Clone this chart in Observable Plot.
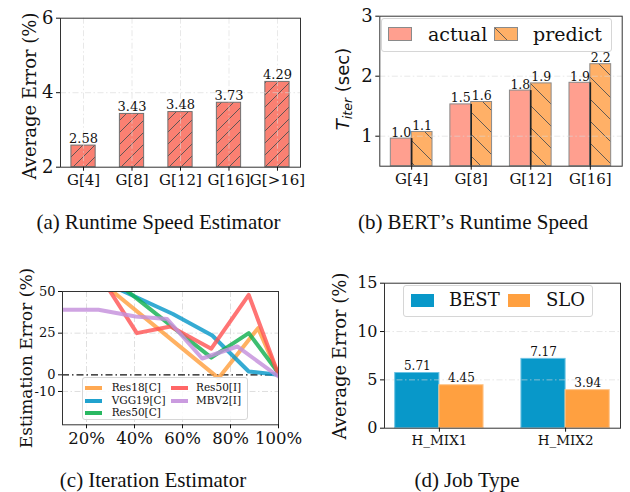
<!DOCTYPE html>
<html><head><meta charset="utf-8">
<script src="https://cdn.jsdelivr.net/npm/d3@7"></script>
<script src="https://cdn.jsdelivr.net/npm/@observablehq/plot@0.6"></script>
<style>
body{margin:0;background:#fff;}
#wrap{position:relative;width:630px;height:492px;overflow:hidden;font-family:"DejaVu Serif";color:#111;}
.panel{position:absolute;}
.panel svg{display:block;overflow:visible;}
.ytitle{position:absolute;white-space:nowrap;transform:translate(-50%,-50%) rotate(-90deg);line-height:1;}
.cap{position:absolute;white-space:nowrap;transform:translate(-50%,-50%);font-family:"Liberation Serif";font-size:21px;line-height:1;}
.cap b{font-weight:normal;margin-right:5px;}
.legend{position:absolute;box-sizing:border-box;border:1px solid #d6d6d6;border-radius:3px;background:rgba(255,255,255,0.85);}
.lt{position:absolute;white-space:nowrap;transform:translateY(-50%);line-height:1;}
.lt.small{line-height:0.88;}
.sw{position:absolute;box-sizing:border-box;}
</style></head><body><div id="wrap"></div>
<script>
// ---------- data ----------
const A_CATEGORIES = ["G[4]", "G[8]", "G[12]", "G[16]", "G[>16]"];
const A_VALUES = [2.58, 3.43, 3.48, 3.73, 4.29];
const A_YTICKS = [2, 4, 6];

const B_CATEGORIES = ["G[4]", "G[8]", "G[12]", "G[16]"];
const B_ACTUAL = [0.96, 1.53, 1.76, 1.89];
const B_PREDICT = [1.07, 1.57, 1.88, 2.2];
const B_YTICKS = [1, 2, 3];

const C_MODELS = ["Res18[C]", "VGG19[C]", "Res50[C]", "Res50[I]", "MBV2[I]"];
const C_RES18C_X = [25, 75, 91.5, 100];
const C_RES18C_Y = [57, -2, 28, 0];
const C_VGG19C_X = [25, 56, 72.4, 87.6, 100];
const C_VGG19C_Y = [57, 36.5, 23.6, 2, 0];
const C_RES50C_X = [25, 72, 87.6, 100];
const C_RES50C_Y = [64, 10.3, 25, 1];
const C_RES50I_X = [25, 41, 55, 72, 87.6, 100];
const C_RES50I_Y = [61, 25, 29, 15.7, 48, 0];
const C_MBV2I_X = [10, 25, 40.4, 53.6, 68.2, 82.8, 100];
const C_MBV2I_Y = [39, 39, 35, 33.5, 9.8, 17, -1];
const C_XTICKS = [20, 40, 60, 80, 100];
const C_YTICKS = [50, 25, 0, -10];

const D_CATEGORIES = ["H_MIX1", "H_MIX2"];
const D_BEST = [5.71, 7.17];
const D_SLO = [4.45, 3.94];
const D_YTICKS = [0, 5, 10, 15];

// ---------- styles ----------
const C_COLORS = ["#ffa040", "#0898c9", "#12b050", "#ff5555", "#c490dc"];
const GRID = {stroke: "#d9d9d9", strokeOpacity: 0.85, strokeDasharray: "6,2.5,1.5,2.5"};
const FRAME = {stroke: "#333", strokeWidth: 1};
const BASESTYLE = {fontFamily: "DejaVu Serif", background: "transparent", color: "#111", overflow: "visible"};
const wrap = document.getElementById("wrap");

function place(svg, left, top) {
  const d = document.createElement("div");
  d.className = "panel"; d.style.left = left + "px"; d.style.top = top + "px";
  d.appendChild(svg); wrap.appendChild(d);
  return svg;
}
function addEl(cls, html, css) {
  const d = document.createElement("div");
  d.className = cls; d.innerHTML = html; Object.assign(d.style, css);
  wrap.appendChild(d); return d;
}

// ---------- (a) ----------
const aData = A_CATEGORIES.map((c, i) => ({i, c, v: A_VALUES[i]}));
const svgA = Plot.plot({
  width: 315, height: 200,
  marginLeft: 60, marginRight: 15, marginTop: 17.7, marginBottom: 33.3,
  style: BASESTYLE,
  x: {type: "linear", domain: [-0.475, 4.475]},
  y: {domain: [2, 6]},
  marks: [
    Plot.rectY(aData, {x1: d => d.i - 0.25, x2: d => d.i + 0.25, y1: 2, y2: "v", fill: "url(#hatchA)", stroke: "#707070", strokeWidth: 1}),
    Plot.ruleX(aData, {x: "i", ...GRID, strokeOpacity: 0.6}),
    Plot.ruleY([4], {...GRID, strokeOpacity: 0.6}),
    Plot.text(aData, {x: "i", y: "v", text: d => d.v.toFixed(2), dy: -3, lineAnchor: "bottom", fontSize: 13}),
    Plot.frame(FRAME),
    Plot.axisY({ticks: A_YTICKS, tickSize: 4, tickPadding: 3, fontSize: 18, label: null, tickFormat: d => String(d)}),
    Plot.axisX({ticks: aData.map(d => d.i), tickSize: 4, tickPadding: 3, fontSize: 15, label: null, tickFormat: i => A_CATEGORIES[i]})
  ]
});
d3.select(svgA).insert("defs", ":first-child").html(
  '<pattern id="hatchA" patternUnits="userSpaceOnUse" width="12" height="12">' +
  '<rect width="12" height="12" fill="#fa8072"/>' +
  '<path d="M-1,1 l2,-2 M0,12 l12,-12 M11,13 l2,-2" stroke="#505050" stroke-width="0.9"/></pattern>');
place(svgA, 0, 0);

// ---------- (b) ----------
const bData = B_CATEGORIES.map((c, i) => ({i, c, a: B_ACTUAL[i], p: B_PREDICT[i]}));
const svgB = Plot.plot({
  width: 315, height: 200,
  marginLeft: 64.3, marginRight: 8.3, marginTop: 15.7, marginBottom: 34.3,
  style: BASESTYLE,
  x: {type: "linear", domain: [-0.535, 3.535]},
  y: {domain: [0.5, 3]},
  marks: [
    Plot.rectY(bData, {x1: d => d.i - 0.35, x2: d => d.i, y1: 0.5, y2: "a", fill: "#ff9f8f", stroke: "#8a8a8a", strokeWidth: 1}),
    Plot.rectY(bData, {x1: d => d.i, x2: d => d.i + 0.35, y1: 0.5, y2: "p", fill: "url(#hatchB)", stroke: "#8a8a8a", strokeWidth: 1}),
    Plot.ruleX(bData, {x: "i", y1: 0.5, y2: "a", stroke: "#222", strokeWidth: 1.6}),
    Plot.ruleY([1, 2], {...GRID, strokeOpacity: 0.6}),
    Plot.text(bData, {x: d => d.i - 0.175, y: "a", text: d => d.a.toFixed(1), dy: -2, lineAnchor: "bottom", fontSize: 12.5}),
    Plot.text(bData, {x: d => d.i + 0.175, y: "p", text: d => d.p.toFixed(1), dy: -2, lineAnchor: "bottom", fontSize: 12.5}),
    Plot.frame(FRAME),
    Plot.axisY({ticks: B_YTICKS, tickSize: 4, tickPadding: 3, fontSize: 18, label: null, tickFormat: d => String(d)}),
    Plot.axisX({ticks: bData.map(d => d.i), tickSize: 4, tickPadding: 3, fontSize: 15, label: null, tickFormat: i => B_CATEGORIES[i]})
  ]
});
d3.select(svgB).insert("defs", ":first-child").html(
  '<pattern id="hatchB" patternUnits="userSpaceOnUse" width="22" height="22">' +
  '<rect width="22" height="22" fill="#ffb067"/>' +
  '<path d="M-2,20 l4,4 M0,0 l22,22 M20,-2 l4,4" stroke="#505050" stroke-width="0.9"/></pattern>');
place(svgB, 315, 0);

// ---------- (c) ----------
const cSeries = [
  [C_MODELS[0], C_RES18C_X, C_RES18C_Y],
  [C_MODELS[1], C_VGG19C_X, C_VGG19C_Y],
  [C_MODELS[2], C_RES50C_X, C_RES50C_Y],
  [C_MODELS[3], C_RES50I_X, C_RES50I_Y],
  [C_MODELS[4], C_MBV2I_X, C_MBV2I_Y]
];
const cData = cSeries.flatMap(([m, xs, ys]) => xs.map((x, j) => ({model: m, x, y: ys[j]})));
const svgC = Plot.plot({
  width: 315, height: 210,
  marginLeft: 62, marginRight: 37, marginTop: 41, marginBottom: 35.7,
  style: BASESTYLE,
  x: {domain: [10, 100]},
  y: {domain: [-30, 50]},
  color: {domain: C_MODELS, range: C_COLORS},
  marks: [
    Plot.ruleX(C_XTICKS.slice(0, 4), GRID),
    Plot.ruleY([25, -10], GRID),
    Plot.ruleY([0], {stroke: "#111", strokeWidth: 1.3, strokeDasharray: "7,3,1.5,3"}),
    Plot.line(cData, {x: "x", y: "y", z: "model", stroke: "model", strokeWidth: 4, strokeOpacity: 0.82, clip: true}),
    Plot.frame(FRAME),
    Plot.axisY({ticks: C_YTICKS, tickSize: 4, tickPadding: 3, fontSize: 13, label: null, tickFormat: d => String(d)}),
    Plot.axisX({ticks: C_XTICKS, tickSize: 4, tickPadding: 3, fontSize: 16.5, label: null, tickFormat: d => d + "%"})
  ]
});
place(svgC, 0, 250);

// ---------- (d) ----------
const dData = D_CATEGORIES.map((c, i) => ({i, c, b: D_BEST[i], s: D_SLO[i]}));
const svgD = Plot.plot({
  width: 315, height: 210,
  marginLeft: 69, marginRight: 10, marginTop: 32.7, marginBottom: 32.3,
  style: BASESTYLE,
  x: {type: "linear", domain: [-0.435, 1.435]},
  y: {domain: [0, 15]},
  marks: [
    Plot.rectY(dData, {x1: d => d.i - 0.35, x2: d => d.i, y1: 0, y2: "b", fill: "#0898c9", stroke: "#6cc3e3", strokeWidth: 1}),
    Plot.rectY(dData, {x1: d => d.i, x2: d => d.i + 0.35, y1: 0, y2: "s", fill: "#ffa040", stroke: "#ffc78f", strokeWidth: 1}),
    Plot.ruleY([5, 10], {...GRID, strokeOpacity: 0.6}),
    Plot.text(dData, {x: d => d.i - 0.175, y: "b", text: d => d.b.toFixed(2), dy: -3, lineAnchor: "bottom", fontSize: 12}),
    Plot.text(dData, {x: d => d.i + 0.175, y: "s", text: d => d.s.toFixed(2), dy: -3, lineAnchor: "bottom", fontSize: 12}),
    Plot.frame(FRAME),
    Plot.axisY({ticks: D_YTICKS, tickSize: 4, tickPadding: 3, fontSize: 16, label: null, tickFormat: d => String(d)}),
    Plot.axisX({ticks: dData.map(d => d.i), tickSize: 4, tickPadding: 3, fontSize: 13.5, label: null, tickFormat: i => D_CATEGORIES[i]})
  ]
});
place(svgD, 315, 250);

// ---------- axis titles ----------
addEl("ytitle", "Average Error (%)", {left: "30px", top: "96px", fontSize: "18px"});
addEl("ytitle", '<i>T</i><sub style="font-size:70%;font-style:italic;vertical-align:-0.25em">iter</sub> (sec)',
  {left: "344px", top: "89px", fontSize: "18px", fontFamily: "DejaVu Sans"});
addEl("ytitle", "Estimation Error (%)", {left: "26px", top: "358px", fontSize: "17px"});
addEl("ytitle", "Average Error (%)", {left: "340px", top: "356px", fontSize: "18px"});

// ---------- captions ----------
addEl("cap", "<b>(a)</b>Runtime Speed Estimator", {left: "158.5px", top: "222px"});
addEl("cap", "<b>(b)</b>BERT’s Runtime Speed", {left: "473px", top: "222px"});
addEl("cap", "<b>(c)</b>Iteration Estimator", {left: "153px", top: "480px"});
addEl("cap", "<b>(d)</b>Job Type", {left: "467px", top: "480px"});

// ---------- legend (b) ----------
addEl("legend", "", {left: "381px", top: "18px", width: "231px", height: "34px"});
addEl("sw", "", {left: "388px", top: "27px", width: "24px", height: "14px", background: "#ff9f8f", border: "1px solid #8a8a8a"});
addEl("lt", "actual", {left: "428px", top: "34px", fontSize: "19px"});
addEl("sw", '<svg width="24" height="14" style="display:block"><rect x="0.5" y="0.5" width="23" height="13" fill="url(#hatchB)" stroke="#8a8a8a"/></svg>',
  {left: "494px", top: "27px", width: "24px", height: "14px"});
addEl("lt", "predict", {left: "533px", top: "34px", fontSize: "19px"});

// ---------- legend (c) ----------
addEl("legend", "", {left: "82px", top: "377px", width: "166px", height: "43px"});
const cLegPos = [[85, 111.7, 388.2], [85, 111.7, 400.5], [85, 111.7, 412.8], [170.7, 196, 388.2], [170.7, 196, 400.5]];
C_MODELS.forEach((m, k) => {
  const [sx, tx, cy] = cLegPos[k];
  addEl("sw", "", {left: sx + "px", top: (cy - 2) + "px", width: "17px", height: "4px", background: C_COLORS[k], opacity: 0.9});
  addEl("lt small", m, {left: tx + "px", top: cy + "px", fontSize: "10.5px"});
});

// ---------- legend (d) ----------
addEl("legend", "", {left: "403px", top: "284.5px", width: "190px", height: "32.5px"});
addEl("sw", "", {left: "411px", top: "293.5px", width: "22.5px", height: "13.5px", background: "#0898c9"});
addEl("lt", "BEST", {left: "449px", top: "300px", fontSize: "18px"});
addEl("sw", "", {left: "507.5px", top: "293.5px", width: "22.5px", height: "13.5px", background: "#ffa040"});
addEl("lt", "SLO", {left: "546px", top: "300px", fontSize: "18px"});
</script></body></html>
